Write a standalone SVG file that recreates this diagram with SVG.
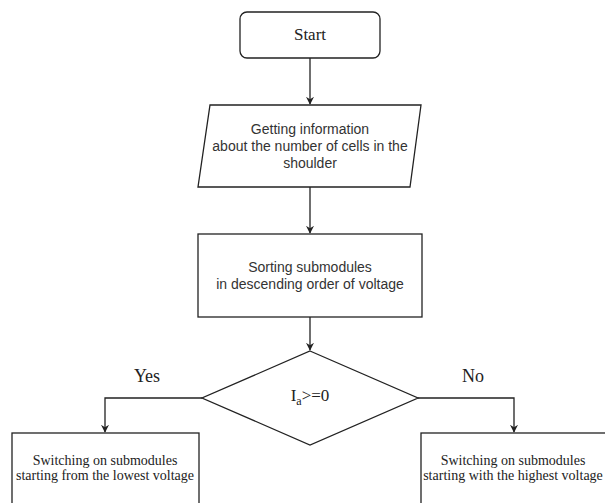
<svg xmlns="http://www.w3.org/2000/svg" width="605" height="503" viewBox="0 0 605 503">
<defs>
<style>
.sh{fill:#fff;stroke:#222;stroke-width:1.3}
.ln{fill:none;stroke:#222;stroke-width:1.3}
.sans{font-family:"Liberation Sans",Arial,sans-serif;font-size:14px;fill:#333;text-anchor:middle}
.serif{font-family:"Liberation Serif","Times New Roman",serif;fill:#222;text-anchor:middle}
.lbl{font-size:14px}
</style>
<marker id="ar" viewBox="0 0 10 10" refX="9" refY="5" markerWidth="8" markerHeight="8" markerUnits="userSpaceOnUse" orient="auto">
<path d="M0,0 L10,5 L0,10 L3,5 z" fill="#222"/>
</marker>
</defs>
<rect width="605" height="503" fill="#fff"/>
<g id="connectors">
<path class="ln" d="M310,58 V104" marker-end="url(#ar)"/>
<path class="ln" d="M310,187 V233" marker-end="url(#ar)"/>
<path class="ln" d="M310,317 V350" marker-end="url(#ar)"/>
<path class="ln" d="M202,398 H105 V432" marker-end="url(#ar)"/>
<path class="ln" d="M418,398 H514 V432" marker-end="url(#ar)"/>
<text class="serif" x="147" y="382" font-size="18">Yes</text>
<text class="serif" x="473" y="382" font-size="18">No</text>
</g>
<g id="start">
<rect class="sh" x="240" y="12" width="140" height="46" rx="7"/>
<text class="serif" x="310" y="40" font-size="17">Start</text>
</g>
<g id="info">
<polygon class="sh" points="210,105 421,105 410,187 198,187"/>
<text class="sans" x="310" y="134">Getting information</text>
<text class="sans" x="310" y="151">about the number of cells in the</text>
<text class="sans" x="310" y="168">shoulder</text>
</g>
<g id="sort">
<rect class="sh" x="198" y="234" width="224" height="83"/>
<text class="sans" x="310" y="272">Sorting submodules</text>
<text class="sans" x="310" y="289">in descending order of voltage</text>
</g>
<g id="decision">
<polygon class="sh" points="310,351 418,398 310,445 202,398"/>
<text class="serif" x="310" y="401" font-size="17">I<tspan font-size="12" dy="4">a</tspan><tspan dy="-4">&gt;=0</tspan></text>
</g>
<g id="low">
<rect class="sh" x="12" y="433" width="187" height="80"/>
<text class="serif lbl" x="105" y="465">Switching on submodules</text>
<text class="serif lbl" x="105" y="480">starting from the lowest voltage</text>
</g>
<g id="high">
<rect class="sh" x="421" y="433" width="190" height="80"/>
<text class="serif lbl" x="513" y="465">Switching on submodules</text>
<text class="serif lbl" x="513" y="480">starting with the highest voltage</text>
</g>
</svg>
